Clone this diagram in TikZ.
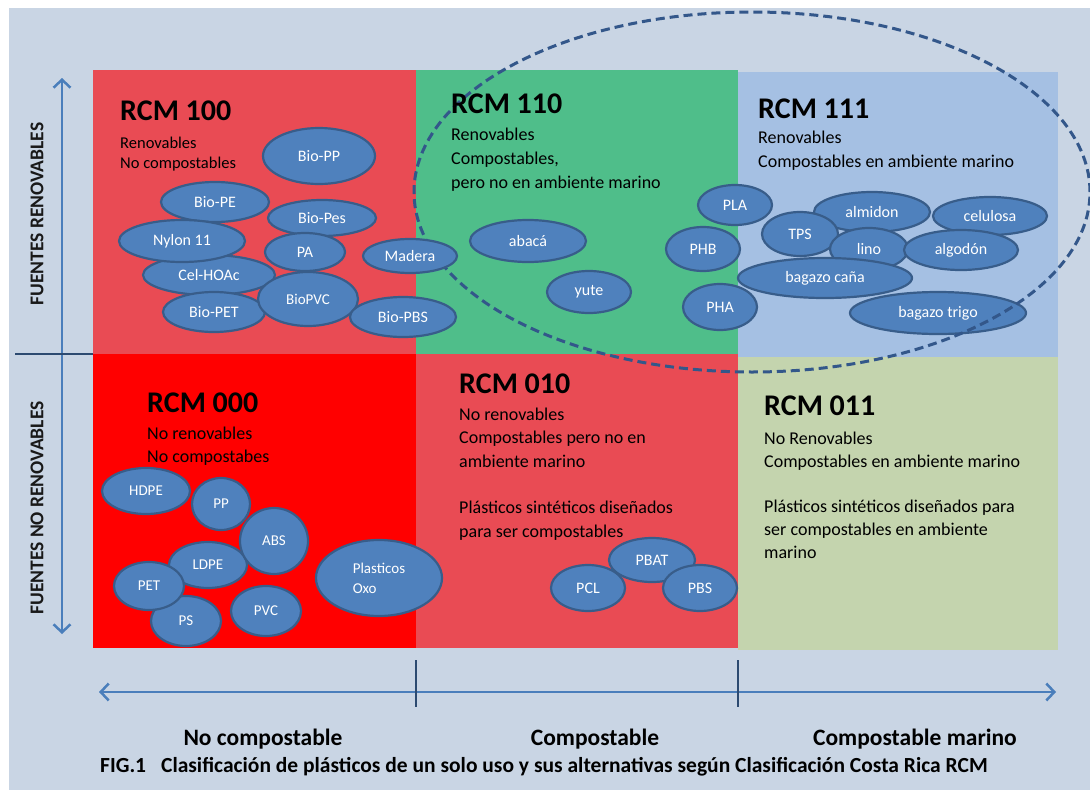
\documentclass[tikz,border=0pt]{standalone}
\usepackage{fontspec}
\setmainfont{Carlito}
\usepackage{tikz}
\usetikzlibrary{shapes.geometric,%
                arrows.meta}

\definecolor{bgblue}{HTML}{C9D5E4}
\definecolor{rosered}{HTML}{E94B54}
\definecolor{mintgreen}{HTML}{4FBE8A}
\definecolor{skyblue}{HTML}{A5C0E3}
\definecolor{purered}{HTML}{FF0000}
\definecolor{sagegreen}{HTML}{C4D4AE}
\definecolor{blobfill}{HTML}{4F81BD}
\definecolor{blobline}{HTML}{385D8A}
\definecolor{dashblue}{HTML}{33578A}
\definecolor{axisblue}{HTML}{4A7EBB}
\definecolor{tickblue}{HTML}{2C4A70}

\begin{document}
\begin{tikzpicture}
  [x=1pt,y=-1pt,
   blob/.style 2 args={ellipse,draw=blobline,fill=blobfill,line width=2.2pt,inner sep=0pt,
     minimum width=#1pt,minimum height=#2pt,text=white,font=\fontsize{16}{19}\selectfont},
   small/.style={font=\fontsize{15}{20}\selectfont},
   rcmtitle/.style={anchor=base west,inner sep=0pt,font=\fontsize{30}{30}\selectfont\bfseries},
   rcmtext/.style={anchor=base west,inner sep=0pt,align=left,font=\fontsize{18}{#1}\selectfont},
   axis/.style={draw=axisblue,line width=2.5pt,{Straight Barb[length=8pt,width=17pt]}-{Straight Barb[length=8pt,width=17pt]}},
   tick/.style={draw=tickblue,line width=2.5pt},
   axislabel/.style={anchor=base,inner sep=0pt,font=\fontsize{23.5}{23.5}\selectfont\bfseries},
   sidelabel/.style={rotate=90,inner sep=0pt,text=black!90,font=\fontsize{19.5}{19.5}\selectfont\bfseries}]
  \useasboundingbox (0,0) rectangle (1090,790);
  \fill[bgblue] (9,8) rectangle (1090,790);
  % the six RCM fields
  \fill[rosered] (93,70) rectangle (416,354);
  \fill[mintgreen] (416,70) rectangle (738,354);
  \fill[skyblue] (738,72) rectangle (1058,357);
  \fill[purered] (93,354) rectangle (416,648);
  \fill[rosered] (416,354) rectangle (738,648);
  \fill[sagegreen] (738,357) rectangle (1058,650);

  % RCM 111
  \node[blob={116}{40}] (almidon) at (872,212) {almidon};
  \node[blob={114}{38}] (celulosa) at (990,216) {celulosa};
  \node[blob={76}{44}] (tps) at (800,234) {TPS};
  \node[blob={78}{42}] (lino) at (869,249) {lino};
  \node[blob={114}{40}] (algodon) at (961,250) {algodón};
  \node[blob={174}{40}] (bagcana) at (825,278) {bagazo caña};
  \node[blob={176}{42}] (bagtrigo) at (938,313) {bagazo trigo};

  % compostable set
  \node[ellipse,draw=dashblue,line width=3pt,dash pattern=on 9pt off 5pt,
        minimum width=676pt,minimum height=360pt,inner sep=0pt] (compset) at (752,192) {};

  % RCM 100
  \node[blob={112}{56}] (biopp) at (319,156) {Bio-PP};
  \node[blob={108}{40}] (biope) at (215,202) {Bio-PE};
  \node[blob={132}{40}] (celhoac) at (209,275) {Cel-HOAc};
  \node[blob={126}{42}] (nylon) at (182,241) {Nylon 11};
  \node[blob={108}{36}] (biopes) at (322,218) {Bio-Pes};
  \node[blob={80}{38}] (pa) at (305,252) {PA};
  \node[blob={102}{40}] (biopet) at (214,312) {Bio-PET};
  \node[blob={100}{54},small] (biopvc) at (308,299) {BioPVC};
  \node[blob={106}{40}] (biopbs) at (403,317) {Bio-PBS};

  % RCM 110
  \node[blob={116}{42}] (abaca) at (528,241) {abacá};
  \node[blob={84}{42}] (yute) at (589,292) {yute};
  \node[blob={74}{40}] (pla) at (735,205) {PLA};
  \node[blob={74}{44}] (phb) at (703,249) {PHB};
  \node[blob={74}{46}] (pha) at (720,307) {PHA};
  \node[blob={94}{34}] (madera) at (410,256) {Madera};

  % RCM 000
  \node[blob={88}{46},small] (hdpe) at (146,491) {HDPE};
  \node[blob={58}{52},small] (pp) at (221,504) {PP};
  \node[blob={78}{46},small] (ldpe) at (208,565) {LDPE};
  \node[blob={68}{66},small] (abs) at (274,541) {ABS};
  \node[blob={70}{50},small] (ps) at (186,621) {PS};
  \node[blob={70}{48},small] (pet) at (149,586) {PET};
  \node[blob={70}{50},small] (pvc) at (266,611) {PVC};
  \node[blob={126}{76},small,align=left] (oxo) at (379,578) {Plasticos\\Oxo};

  % RCM 010
  \node[blob={86}{44}] (pbat) at (652,560) {PBAT};
  \node[blob={74}{46}] (pcl) at (588,588) {PCL};
  \node[blob={74}{46}] (pbs) at (700,588) {PBS};

  % titles and texts (base = last line)
  \node[rcmtitle] (t100) at (120,120) {RCM 100};
  \node[rcmtext=20,font=\fontsize{16.5}{20}\selectfont] (d100) at (120,168) {Renovables\\No compostables};
  \node[rcmtitle] (t110) at (451,113) {RCM 110};
  \node[rcmtext=24] (d110) at (451,188) {Renovables\\Compostables,\\pero no en ambiente marino};
  \node[rcmtitle] (t111) at (758,118) {RCM 111};
  \node[rcmtext=24] (d111) at (758,167) {Renovables\\Compostables en ambiente marino};
  \node[rcmtitle] (t000) at (147,412) {RCM 000};
  \node[rcmtext=23] (d000) at (147,462) {No renovables\\No compostabes};
  \node[rcmtitle] (t010) at (459,393) {RCM 010};
  \node[rcmtext=23.5] (d010) at (459,537) {No renovables\\Compostables pero no en\\ambiente marino\\[23pt]Plásticos sintéticos diseñados\\para ser compostables};
  \node[rcmtitle] (t011) at (764,415) {RCM 011};
  \node[rcmtext=23] (d011) at (764,558) {No Renovables\\Compostables en ambiente marino\\[22pt]Plásticos sintéticos diseñados para\\ser compostables en ambiente\\marino};

  % axes
  \coordinate (ytop) at (62,78);
  \coordinate (ybot) at (62,634);
  \coordinate (splitl) at (15,354);
  \coordinate (splitr) at (93,354);
  \draw[axis] (ybot) -- (ytop);
  \draw[tick] (splitl) -- (splitr);
  \node[sidelabel] (fren) at (37,214) {FUENTES RENOVABLES};
  \node[sidelabel] (fnoren) at (37,508) {FUENTES NO RENOVABLES};

  \coordinate (xleft) at (99,692);
  \coordinate (xright) at (1056,692);
  \coordinate (ta) at (416,660);
  \coordinate (tb) at (416,707);
  \coordinate (tc) at (738,660);
  \coordinate (td) at (738,707);
  \draw[axis] (xleft) -- (xright);
  \draw[tick] (ta) -- (tb);
  \draw[tick] (tc) -- (td);
  \node[axislabel] (lnc) at (263,745) {No compostable};
  \node[axislabel] (lc) at (595,745) {Compostable};
  \node[axislabel] (lcm) at (915,745) {Compostable marino};

  \node[anchor=base west,inner sep=0pt,font=\fontsize{21.5}{21.5}\selectfont\bfseries] (caption) at (100,772)
    {FIG.1\hspace{15pt}Clasificación de plásticos de un solo uso y sus alternativas según Clasificación Costa Rica RCM};
\end{tikzpicture}
\end{document}
